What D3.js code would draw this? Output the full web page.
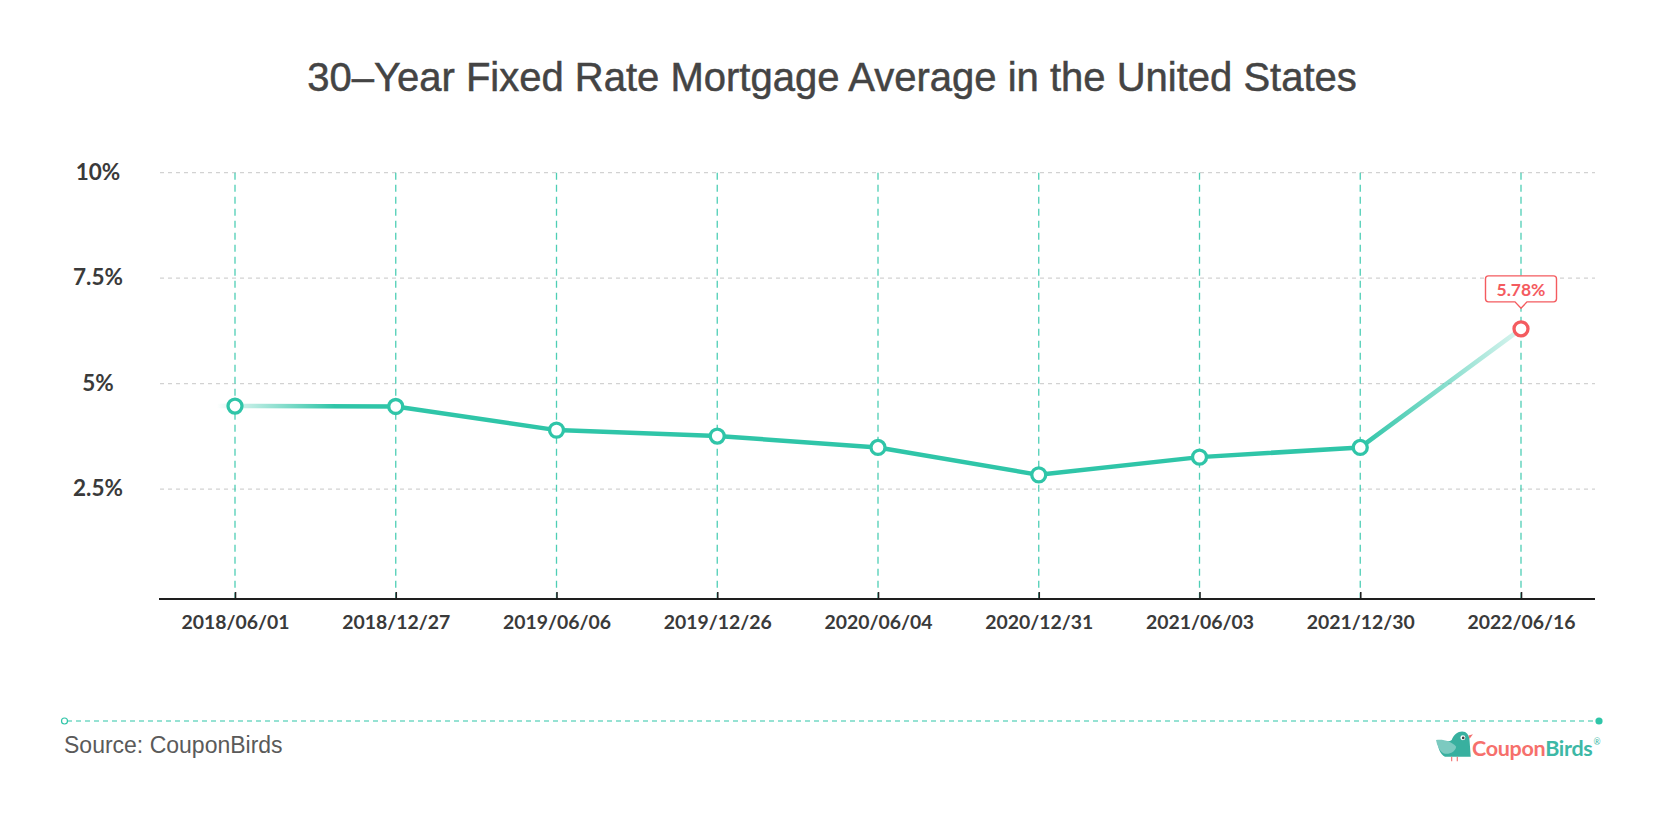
<!DOCTYPE html>
<html>
<head>
<meta charset="utf-8">
<script src="https://cdn.jsdelivr.net/npm/d3@7"></script>
<style>
  html, body { margin: 0; padding: 0; background: #fff; }
  svg { display: block; }
</style>
</head>
<body>
<svg id="chart" width="1656" height="814"></svg>
<script>
// ---- data ----
const categories = ["2018/06/01", "2018/12/27", "2019/06/06", "2019/12/26", "2020/06/04", "2020/12/31", "2021/06/03", "2021/12/30", "2022/06/16"];
const values = [4.47, 4.46, 3.90, 3.76, 3.49, 2.84, 3.26, 3.49, 6.30];
const yTicks = [2.5, 5, 7.5, 10];
const yTickLabels = ["2.5%", "5%", "7.5%", "10%"];
const highlightIndex = 8;
const highlightLabel = "5.78%";
const title = "30–Year Fixed Rate Mortgage Average in the United States";
const sourceText = "Source: CouponBirds";

// ---- setup ----
const svg = d3.select("#chart");
const teal = "#2fc5a8";
const red = "#f45b5f";

const x = d3.scalePoint().domain(categories).range([235, 1521]);
const y = d3.scaleLinear().domain([0, 10]).range([594.7, 172.7]);
const axisY = 599;
const gridLeft = 160, gridRight = 1595;

// Title
svg.append("text")
  .attr("x", 832).attr("y", 91)
  .attr("text-anchor", "middle")
  .attr("font-family", "'Liberation Sans', Arial, sans-serif")
  .attr("font-size", 40)
  .attr("fill", "#444")
  .attr("stroke", "#444").attr("stroke-width", 0.5)
  .text(title);

// horizontal grid
svg.append("g").selectAll("line").data(yTicks).join("line")
  .attr("x1", gridLeft).attr("x2", gridRight)
  .attr("y1", d => y(d)).attr("y2", d => y(d))
  .attr("stroke", "#d2d2d2").attr("stroke-width", 1.2)
  .attr("stroke-dasharray", "4,4");

// vertical teal dashed lines
svg.append("g").selectAll("line").data(categories).join("line")
  .attr("x1", d => x(d)).attr("x2", d => x(d))
  .attr("y1", y(10)).attr("y2", axisY)
  .attr("stroke", teal).attr("stroke-opacity", 0.85).attr("stroke-width", 1.3)
  .attr("stroke-dasharray", "7,5");

// y labels
svg.append("g").selectAll("text").data(yTicks).join("text")
  .attr("x", 98).attr("y", d => y(d) + 7)
  .attr("text-anchor", "middle")
  .attr("font-family", "Lato, sans-serif").attr("font-weight", 700)
  .attr("font-size", 22.5).attr("fill", "#3a3a3a")
  .text((d, i) => yTickLabels[i]);

// x axis
const xAxis = d3.axisBottom(x).tickSize(-7).tickPadding(0);
const gx = svg.append("g").attr("transform", `translate(0,${axisY})`).call(xAxis);
gx.select(".domain").remove();
gx.selectAll(".tick line").attr("stroke", "#222").attr("stroke-width", 1.6);
gx.selectAll(".tick text")
  .attr("y", 30).attr("dy", null)
  .attr("font-family", "Lato, sans-serif").attr("font-weight", 700)
  .attr("font-size", 19.4).attr("fill", "#3a3a3a");
svg.append("line")
  .attr("x1", 159).attr("x2", 1595)
  .attr("y1", axisY).attr("y2", axisY)
  .attr("stroke", "#1e1e1e").attr("stroke-width", 2.2);

// gradient for the line
const defs = svg.append("defs");
const x0 = x(categories[0]), x1 = x(categories[categories.length - 1]);
const grad = defs.append("linearGradient")
  .attr("id", "lineGrad")
  .attr("gradientUnits", "userSpaceOnUse")
  .attr("x1", x0 - 18).attr("x2", x1).attr("y1", 0).attr("y2", 0);
const span = x1 - (x0 - 18);
const off = v => (v - (x0 - 18)) / span;
[[0, 0.0], [off(x0), 0.2], [off(x0 + 100), 1], [off(x(categories[7])), 1], [1, 0.18]]
  .forEach(([o, a]) => grad.append("stop").attr("offset", o).attr("stop-color", teal).attr("stop-opacity", a));

const line = d3.line().x((d, i) => x(categories[i])).y(d => y(d));
svg.append("path")
  .attr("d", "M" + (x0 - 18) + "," + y(values[0]) + "L" + line(values).slice(1))
  .attr("fill", "none")
  .attr("stroke", "url(#lineGrad)")
  .attr("stroke-width", 4.5)
  .attr("stroke-linejoin", "round");

// points
svg.append("g").selectAll("circle").data(values).join("circle")
  .attr("cx", (d, i) => x(categories[i]))
  .attr("cy", d => y(d))
  .attr("r", 7)
  .attr("fill", "#fff")
  .attr("stroke", (d, i) => i === highlightIndex ? red : teal)
  .attr("stroke-width", 3.3);

// annotation callout
const hx = x(categories[highlightIndex]), hy = y(values[highlightIndex]);
const bw = 71, bh = 26, tipH = 6.5, tipW = 6;
const bTop = hy - 53, bBot = bTop + bh;
const bl = hx - bw / 2, br = hx + bw / 2, r = 3;
const cPath = `M${bl + r},${bTop} L${br - r},${bTop} Q${br},${bTop} ${br},${bTop + r} L${br},${bBot - r} Q${br},${bBot} ${br - r},${bBot}
 L${hx + tipW},${bBot} L${hx},${bBot + tipH} L${hx - tipW},${bBot} L${bl + r},${bBot} Q${bl},${bBot} ${bl},${bBot - r} L${bl},${bTop + r} Q${bl},${bTop} ${bl + r},${bTop} Z`;
svg.append("path").attr("d", cPath)
  .attr("fill", "#fff").attr("stroke", red).attr("stroke-width", 1.4);
svg.append("text")
  .attr("x", hx).attr("y", bTop + 20)
  .attr("text-anchor", "middle")
  .attr("font-family", "Lato, sans-serif").attr("font-weight", 700)
  .attr("font-size", 17.5).attr("fill", red)
  .text(highlightLabel);

// footer separator
const sepY = 721;
svg.append("line")
  .attr("x1", 67).attr("x2", 1596).attr("y1", sepY).attr("y2", sepY)
  .attr("stroke", teal).attr("stroke-width", 1.2).attr("stroke-dasharray", "5,4");
svg.append("circle").attr("cx", 64.5).attr("cy", sepY).attr("r", 3)
  .attr("fill", "#fff").attr("stroke", teal).attr("stroke-width", 1.2);
svg.append("circle").attr("cx", 1599).attr("cy", sepY).attr("r", 3.6).attr("fill", teal);

// source
svg.append("text")
  .attr("x", 64).attr("y", 753)
  .attr("font-family", "'Liberation Sans', Arial, sans-serif")
  .attr("font-size", 23).attr("fill", "#5a5a5a")
  .text(sourceText);

// logo
const logo = svg.append("g").attr("transform", "translate(1436,731) scale(1.12)");
logo.append("path")
  .attr("d", "M2,8 C8,9 12,10 14,8 C16,2 22,-1 26,1 C29,3 30,6 30,9 L31,23 L8,23 C4,21 1,15 2,8 Z")
  .attr("fill", "#38b09f");
logo.append("path")
  .attr("d", "M0,8 C6,7 14,9 18,14 C17,19 12,21 7,20 C3,18 1,13 0,8 Z")
  .attr("fill", "#7ccac0");
logo.append("circle").attr("cx", 24).attr("cy", 6).attr("r", 2.2).attr("fill", "#fff");
logo.append("circle").attr("cx", 24.3).attr("cy", 6.2).attr("r", 1.2).attr("fill", "#444");
logo.append("path").attr("d", "M29,4 L33,3 L30,7 Z").attr("fill", "#f36f6f");
logo.append("line").attr("x1", 14).attr("x2", 14).attr("y1", 23).attr("y2", 27).attr("stroke", "#f36f6f").attr("stroke-width", 1);
logo.append("line").attr("x1", 19).attr("x2", 19).attr("y1", 23).attr("y2", 27).attr("stroke", "#f36f6f").attr("stroke-width", 1);
const lt = svg.append("text")
  .attr("x", 1472).attr("y", 756)
  .attr("font-family", "Lato, sans-serif").attr("font-weight", 700)
  .attr("font-size", 21.5).attr("letter-spacing", -0.3);
lt.append("tspan").attr("fill", "#f6706c").text("Coupon");
lt.append("tspan").attr("fill", "#3db8a6").text("Birds");
const ltEnd = lt.node().getBBox();
svg.append("text")
  .attr("x", ltEnd.x + ltEnd.width + 1).attr("y", ltEnd.y + 10)
  .attr("font-family", "Lato, sans-serif").attr("font-size", 8.5).attr("fill", "#3db8a6")
  .text("®");
</script>
</body>
</html>
